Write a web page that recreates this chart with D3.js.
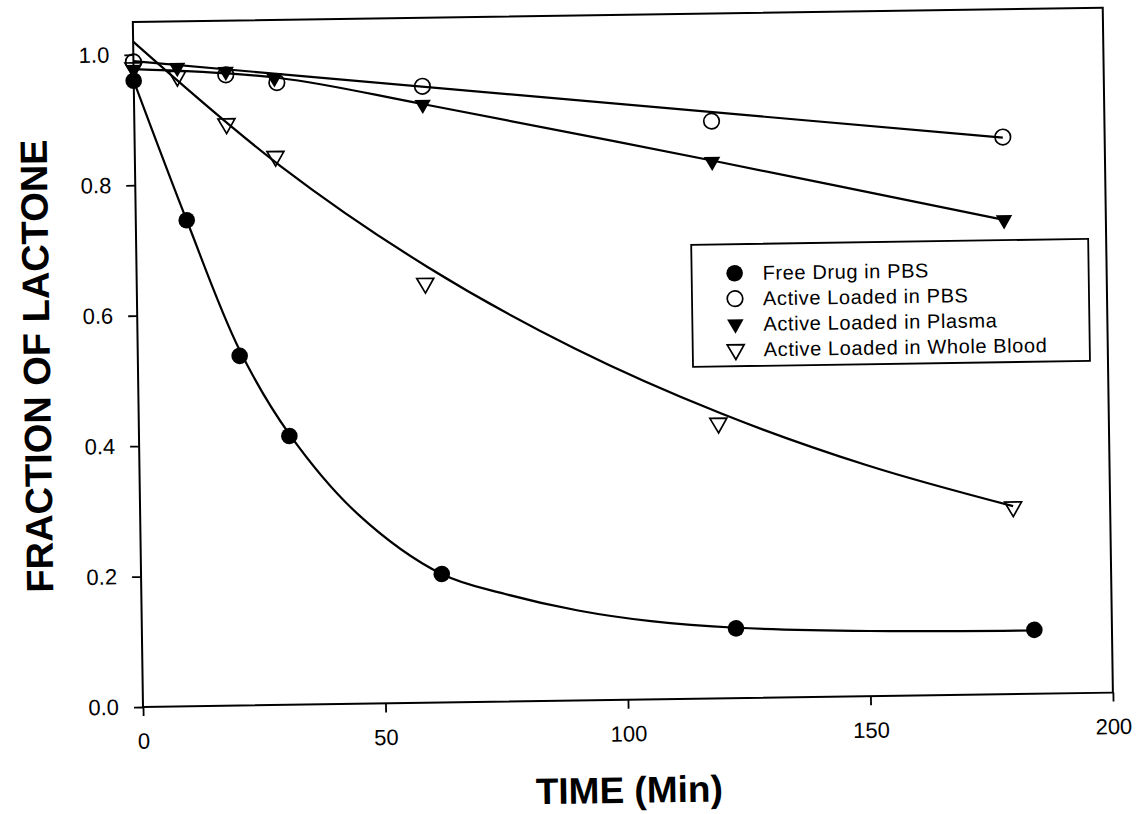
<!DOCTYPE html>
<html>
<head>
<meta charset="utf-8">
<script src="https://cdn.jsdelivr.net/npm/d3@7"></script>
<style>
  html, body { margin: 0; padding: 0; background: #fff; }
  svg { display: block; font-family: "Liberation Sans", Arial, Helvetica, sans-serif; }
</style>
</head>
<body>
<svg id="chart" width="1141" height="814"></svg>
<script>
// ---- data ----
const xTicks = [0, 50, 100, 150, 200];
const yTicks = [0.0, 0.2, 0.4, 0.6, 0.8, 1.0];

const seriesNames = ["Free Drug in PBS", "Active Loaded in PBS", "Active Loaded in Plasma", "Active Loaded in Whole Blood"];

const timeFree   = [0, 10.5, 21, 31, 62, 122.5, 184];
const fracFree   = [0.96, 0.745, 0.536, 0.412, 0.197, 0.107, 0.098];
const timePBS    = [0, 19, 29.5, 59.5, 119, 179];
const fracPBS    = [0.989, 0.967, 0.954, 0.945, 0.885, 0.854];
const timePlasma = [0, 9, 19, 29, 59.5, 119, 179];
const fracPlasma = [0.977, 0.979, 0.972, 0.961, 0.917, 0.823, 0.727];
const timeBlood  = [0, 9, 19, 29, 59.5, 119.5, 180];
const fracBlood  = [0.98, 0.966, 0.892, 0.841, 0.643, 0.422, 0.287];

// fitted curves, points
const fitFreeT   = [0, 10.5, 21, 31, 45, 62, 75, 90, 105, 122.5, 150, 184];
const fitFreeV   = [0.96, 0.745, 0.545, 0.415, 0.29, 0.197, 0.165, 0.138, 0.12, 0.108, 0.1, 0.097];
const fitPBST    = [0, 179];
const fitPBSV    = [0.99, 0.853];
const fitPlasmaT = [0, 30, 60, 120, 179];
const fitPlasmaV = [0.978, 0.961, 0.917, 0.823, 0.727];
const fitBloodT  = [0, 30, 60, 90, 120, 150, 180];
const fitBloodV  = [1.02, 0.826, 0.668, 0.54, 0.437, 0.354, 0.288];

// ---- layout ----
const W = 970, H = 685;
const svg = d3.select("#chart");
const g = svg.append("g")
  .attr("transform", "translate(143,707) rotate(-0.85) translate(0,-685)");

const x = d3.scaleLinear().domain([0, 200]).range([0, W]);
const y = d3.scaleLinear().domain([0, 1.05]).range([H, 0]);

// axes
const xAxis = d3.axisBottom(x).tickValues(xTicks).tickSize(9).tickSizeOuter(0).tickPadding(17)
  .tickFormat(d3.format("d"));
const yAxis = d3.axisLeft(y).tickValues(yTicks).tickSize(9).tickSizeOuter(0).tickPadding(15)
  .tickFormat(d3.format(".1f"));

const gx = g.append("g").attr("transform", `translate(0,${H})`).call(xAxis);
const gy = g.append("g").call(yAxis);
[gx, gy].forEach(a => {
  a.select(".domain").remove();
  a.selectAll(".tick line").attr("stroke", "#000").attr("stroke-width", 1.8);
  a.selectAll(".tick text").attr("fill", "#000").style("font-size", "22px")
    .style("font-family", "'Liberation Sans', Arial, sans-serif");
});

// frame
g.append("rect").attr("x", 0).attr("y", 0).attr("width", W).attr("height", H)
  .attr("fill", "none").attr("stroke", "#000").attr("stroke-width", 2);

// axis titles
g.append("text")
  .attr("x", x(100)).attr("y", 788)
  .attr("text-anchor", "middle")
  .style("font-size", "37px").style("font-weight", "bold")
  .text("TIME (Min)");

g.append("text")
  .attr("transform", `translate(-88,${y(0.525)}) rotate(-90)`)
  .attr("text-anchor", "middle")
  .style("font-size", "38px").style("font-weight", "bold")
  .text("FRACTION OF LACTONE");

// fit curves
const line = d3.line().x(d => x(d[0])).y(d => y(d[1])).curve(d3.curveCatmullRom.alpha(0.5));
const fits = [
  d3.zip(fitFreeT, fitFreeV),
  d3.zip(fitPBST, fitPBSV),
  d3.zip(fitPlasmaT, fitPlasmaV),
  d3.zip(fitBloodT, fitBloodV)
];
fits.forEach(f => {
  g.append("path").datum(f).attr("d", line)
    .attr("fill", "none").attr("stroke", "#000").attr("stroke-width", 2.2);
});

// markers
const styles = [
  { type: d3.symbolCircle,   size: 216, fill: "#000", stroke: "none", rot: 0 },
  { type: d3.symbolCircle,   size: 190, fill: "none", stroke: "#000", rot: 0 },
  { type: d3.symbolTriangle, size: 118, fill: "#000", stroke: "none", rot: 180 },
  { type: d3.symbolTriangle, size: 125, fill: "none", stroke: "#000", rot: 180 }
];
const seriesData = [
  d3.zip(timeFree, fracFree),
  d3.zip(timePBS, fracPBS),
  d3.zip(timePlasma, fracPlasma),
  d3.zip(timeBlood, fracBlood)
];
function drawSym(sel, st) {
  sel.attr("d", d3.symbol().type(st.type).size(st.size)())
    .attr("fill", st.fill).attr("stroke", st.stroke).attr("stroke-width", 1.7);
}
seriesData.forEach((data, i) => {
  const st = styles[i];
  g.append("g").selectAll("path").data(data).join("path")
    .attr("transform", d => `translate(${x(d[0])},${y(d[1])}) rotate(${st.rot})`)
    .call(drawSym, st);
});

// legend
const lg = g.append("g");
lg.append("rect").attr("x", 555).attr("y", 231).attr("width", 397).attr("height", 122)
  .attr("fill", "#fff").attr("stroke", "#000").attr("stroke-width", 1.8);
seriesNames.forEach((name, i) => {
  const cy = 260 + i * 25.5;
  lg.append("path").attr("transform", `translate(598,${cy}) rotate(${styles[i].rot})`)
    .call(drawSym, styles[i]);
  lg.append("text").attr("x", 626).attr("y", cy).attr("dy", "0.35em")
    .style("font-size", "20px").style("letter-spacing", "0.6px").text(name);
});
</script>
</body>
</html>
